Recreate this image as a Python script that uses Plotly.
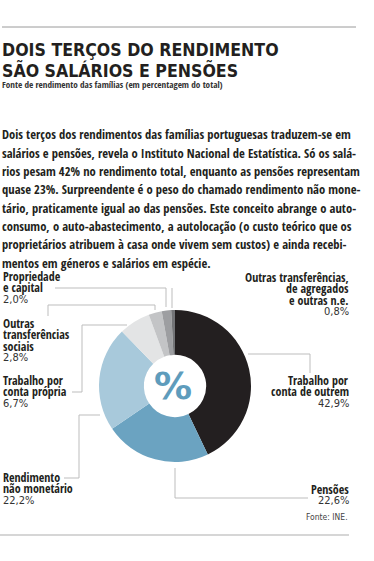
import plotly.graph_objects as go

W, H = 374, 561

# ---- data ----
categories = [
    "Trabalho por conta de outrem",
    "Pensões",
    "Rendimento não monetário",
    "Trabalho por conta própria",
    "Outras transferências sociais",
    "Propriedade e capital",
    "Outras transferências, de agregados e outras n.e.",
]
values = [42.9, 22.6, 22.2, 6.7, 2.8, 2.0, 0.8]
value_labels = ["42,9%", "22,6%", "22,2%", "6,7%", "2,8%", "2,0%", "0,8%"]
slice_colors = ["#231f20", "#6ba3c1", "#a8c9db", "#e3e4e5", "#c3c4c6", "#9d9ea1", "#737477"]

title_lines = ["DOIS TERÇOS DO RENDIMENTO", "SÃO SALÁRIOS E PENSÕES"]
subtitle = "Fonte de rendimento das famílias (em percentagem do total)"
paragraph = [
    "Dois terços dos rendimentos das famílias portuguesas traduzem-se em",
    "salários e pensões, revela o Instituto Nacional de Estatística. Só os salá-",
    "rios pesam 42% no rendimento total, enquanto as pensões representam",
    "quase 23%. Surpreendente é o peso do chamado rendimento não mone-",
    "tário, praticamente igual ao das pensões. Este conceito abrange o auto-",
    "consumo, o auto-abastecimento, a autolocação (o custo teórico que os",
    "proprietários atribuem à casa onde vivem sem custos) e ainda recebi-",
    "mentos em géneros e salários em espécie.",
]
source = "Fonte: INE."

COND = "Open Sans Condensed, DejaVu Sans Condensed, sans-serif"
REG = "DejaVu Sans Condensed, sans-serif"
TITLEF = "DejaVu Sans Condensed, sans-serif"
INK = "#231f20"
RULE = "#bdbdbd"


def px(x):
    return x / W


def py(y):
    return 1 - y / H


cx, cy, R = 175, 386, 76

fig = go.Figure()
fig.add_trace(go.Pie(
    labels=categories,
    values=values,
    sort=False,
    direction="clockwise",
    rotation=0,
    hole=0.41,
    marker=dict(colors=slice_colors, line=dict(width=0)),
    textinfo="none",
    hoverinfo="label+percent",
    showlegend=False,
    domain=dict(x=[px(cx - R), px(cx + R)], y=[py(cy + R), py(cy - R)]),
))

ann = []


def text(x, y, s, size, color=INK, family=COND, xanchor="left"):
    ann.append(dict(x=px(x), y=py(y), xref="paper", yref="paper", text=s,
                    showarrow=False, xanchor=xanchor, yanchor="middle", borderpad=0,
                    font=dict(family=family, size=size, color=color)))


# title
text(1, 50, "<b>" + title_lines[0] + "</b>", 17.6, family=TITLEF)
text(1, 70, "<b>" + title_lines[1] + "</b>", 17.6, family=TITLEF)
text(1, 85, subtitle, 9.2, color="#333")

# paragraph
for i, line in enumerate(paragraph):
    text(1, 135 + i * 18.3, line, 12.6)

# slice labels (label lines, value)
LS = 11.6
FS = 12
left_labels = [
    (2, 276, ["Propriedade", "e capital"], 5),
    (2, 323, ["Outras", "transferências", "sociais"], 4),
    (2, 380, ["Trabalho por", "conta própria"], 3),
    (2, 477, ["Rendimento", "não monetário"], 2),
]
right_labels = [
    (350, 277, ["Outras transferências,", "de agregados", "e outras n.e."], 6),
    (350, 380, ["Trabalho por", "conta de outrem"], 0),
    (350, 489, ["Pensões"], 1),
]
for x0, y0, lines, idx in left_labels:
    for j, l in enumerate(lines):
        text(x0, y0 + j * LS, l, FS)
    text(x0, y0 + len(lines) * LS, value_labels[idx], 11, color="#333", family=REG)
for x0, y0, lines, idx in right_labels:
    for j, l in enumerate(lines):
        text(x0, y0 + j * LS, l, FS, xanchor="right")
    text(x0, y0 + len(lines) * LS, value_labels[idx], 11, color="#333", family=REG, xanchor="right")

text(349, 517, source, 8.5, color="#444", family=REG, xanchor="right")

# centre symbol
text(cx - 2, cy, "<b>%</b>", 38, color="#5e9cbc", family="DejaVu Sans, sans-serif", xanchor="center")

shapes = []


def line(pts):
    path = "M " + " L ".join(f"{px(x)},{py(y)}" for x, y in pts)
    shapes.append(dict(type="path", path=path, xref="paper", yref="paper",
                       line=dict(color=RULE, width=1)))


# horizontal rules
shapes.append(dict(type="line", xref="paper", yref="paper", x0=px(2), x1=px(356), y0=py(27), y1=py(27),
                   line=dict(color="#9a9a9a", width=1)))
shapes.append(dict(type="line", xref="paper", yref="paper", x0=px(0), x1=px(349), y0=py(535), y1=py(535),
                   line=dict(color="#c8c8c8", width=1.5)))

# leader lines
line([(55, 288), (166, 288), (166, 307)])            # Propriedade e capital
line([(48, 316), (48, 305), (155, 305), (155, 310)])  # Outras transf. sociais
line([(72, 392), (82, 392), (82, 325), (127, 325)])  # Trabalho conta própria
line([(64, 478), (79, 478), (79, 415), (100, 415)])  # Rendimento não monetário
line([(172, 288), (172, 308)])                       # Outras transf. agregados
line([(248, 354), (310, 354), (310, 373)])           # Trabalho conta de outrem
line([(175, 468), (175, 498), (308, 498)])           # Pensões

fig.update_layout(
    width=W, height=H,
    margin=dict(l=0, r=0, t=0, b=0),
    paper_bgcolor="white", plot_bgcolor="white",
    annotations=ann, shapes=shapes,
)

fig.write_html("out.html", config={"displayModeBar": False},
               post_script="document.body.style.margin='0';")
